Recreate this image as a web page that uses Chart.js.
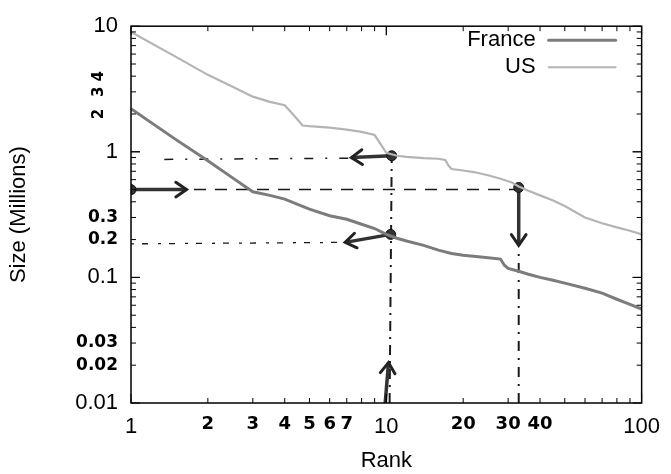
<!DOCTYPE html>
<html>
<head>
<meta charset="utf-8">
<script src="https://cdn.jsdelivr.net/npm/chart.js@4.4.0/dist/chart.umd.min.js"></script>
<style>
  html, body { margin: 0; padding: 0; background: #fff; }
</style>
</head>
<body>
<canvas id="rankChart" width="671" height="474"></canvas>
<script>
// series (rank -> size in millions)
const franceRanks = [1, 1.5, 2, 2.5, 3, 3.5, 4, 5, 6, 7, 8, 9, 10, 11, 12, 14, 16, 18, 20, 24, 28, 29, 30, 33, 36, 40, 45, 50, 60, 70, 80, 90, 100];
const franceSizes = [2.2, 1.25, 0.85, 0.62, 0.48, 0.45, 0.42, 0.35, 0.31, 0.29, 0.265, 0.245, 0.22, 0.205, 0.195, 0.18, 0.165, 0.155, 0.15, 0.145, 0.14, 0.125, 0.118, 0.112, 0.106, 0.1, 0.095, 0.09, 0.082, 0.075, 0.067, 0.061, 0.056];

const usRanks = [1, 1.5, 2, 2.5, 3, 3.5, 4, 4.3, 4.7, 5, 6, 7, 8, 9, 9.5, 10, 11, 12, 14, 16, 17, 17.5, 18, 20, 22, 25, 28, 31, 33, 36, 40, 45, 50, 60, 70, 80, 90, 100];
const usSizes = [9.0, 5.7, 4.1, 3.3, 2.75, 2.5, 2.35, 2.0, 1.62, 1.6, 1.56, 1.5, 1.44, 1.36, 1.15, 0.98, 0.93, 0.91, 0.89, 0.88, 0.86, 0.78, 0.73, 0.71, 0.69, 0.65, 0.61, 0.57, 0.53, 0.49, 0.45, 0.41, 0.37, 0.30, 0.27, 0.25, 0.235, 0.22];

// tick labels, printed ones and the hand written ones
const xTickValues = [1, 2, 3, 4, 5, 6, 7, 10, 20, 30, 40, 100];
const xTickLabels = ['1', '2', '3', '4', '5', '6', '7', '10', '20', '30', '40', '100'];
const yTickValues = [0.01, 0.02, 0.03, 0.1, 0.2, 0.3, 1, 10];
const yTickLabels = ['0.01', '0.02', '0.03', '0.1', '0.2', '0.3', '1', '10'];
const printedTicks = [0.01, 0.1, 1, 10, 100];
const yHandSideValues = [2, 3, 4];
const yHandSideLabels = ['2', '3', '4'];

// hand drawn reading guides (data units)
const guideNear09 = [{x: 1.35, y: 0.87}, {x: 7.2, y: 0.89}];
const guideAt05 = [{x: 1, y: 0.5}, {x: 33, y: 0.5}];
const guideNear02 = [{x: 1, y: 0.185}, {x: 6.8, y: 0.19}];
const guideRank10 = [{x: 10.3, y: 0.01}, {x: 10.5, y: 0.93}];
const guideRank33 = [{x: 33, y: 0.01}, {x: 33, y: 0.165}];
const arrowList = [
    [{x: 10.5, y: 0.93}, {x: 7.3, y: 0.9}],
    [{x: 1, y: 0.5}, {x: 1.65, y: 0.5}],
    [{x: 10.4, y: 0.22}, {x: 6.9, y: 0.19}],
    [{x: 9.9, y: 0.01}, {x: 10.2, y: 0.021}],
    [{x: 33, y: 0.52}, {x: 33, y: 0.18}]
];
const markedPoints = [{x: 10.5, y: 0.93}, {x: 33, y: 0.52}, {x: 1, y: 0.5}, {x: 10.4, y: 0.22}];

const franceColor = '#7c7c7c';
const usColor = '#b4b4b4';
const inkColor = '#1a1a1a';
const handFont = {family: 'DejaVu Sans', size: 17, weight: 'bold'};
const printFont = {family: 'Liberation Sans', size: 22};

function toPoints(xs, ys) {
    return xs.map((x, i) => ({x: x, y: ys[i]}));
}

function guide(data, dash, width) {
    return {
        data: data, borderColor: inkColor, borderWidth: width || 1.5,
        borderDash: dash, pointRadius: 0, fill: false
    };
}

const arrowDatasets = arrowList.map(a => ({
    data: a, borderColor: '#333', borderWidth: 3.5, pointRadius: 0, fill: false
}));

// frame, inward ticks, arrow heads, side notes and the legend
const decor = {
    id: 'decor',
    afterDraw(chart) {
        const ctx = chart.ctx;
        const a = chart.chartArea;
        const xs = chart.scales.x, ys = chart.scales.y;
        ctx.save();
        ctx.strokeStyle = '#000';
        ctx.lineWidth = 1.5;
        ctx.strokeRect(a.left, a.top, a.right - a.left, a.bottom - a.top);

        ctx.lineWidth = 1;
        ctx.beginPath();
        [1, 10].forEach(dec => {
            for (let m = 1; m <= 10; m++) {
                const px = xs.getPixelForValue(dec * m);
                const len = (m === 1 || m === 10) ? 9 : 5;
                ctx.moveTo(px, a.bottom); ctx.lineTo(px, a.bottom - len);
                ctx.moveTo(px, a.top); ctx.lineTo(px, a.top + len);
            }
        });
        [0.01, 0.1, 1].forEach(dec => {
            for (let m = 1; m <= 10; m++) {
                const py = ys.getPixelForValue(dec * m);
                const len = (m === 1 || m === 10) ? 9 : 5;
                ctx.moveTo(a.left, py); ctx.lineTo(a.left + len, py);
                ctx.moveTo(a.right, py); ctx.lineTo(a.right - len, py);
            }
        });
        ctx.stroke();

        // arrow heads
        ctx.strokeStyle = '#222';
        ctx.lineWidth = 3;
        ctx.lineCap = 'round';
        arrowList.forEach(arr => {
            const x0 = xs.getPixelForValue(arr[0].x), y0 = ys.getPixelForValue(arr[0].y);
            const x1 = xs.getPixelForValue(arr[1].x), y1 = ys.getPixelForValue(arr[1].y);
            const ang = Math.atan2(y1 - y0, x1 - x0);
            const head = 13;
            ctx.beginPath();
            ctx.moveTo(x1 - head * Math.cos(ang - 0.6), y1 - head * Math.sin(ang - 0.6));
            ctx.lineTo(x1, y1);
            ctx.lineTo(x1 - head * Math.cos(ang + 0.6), y1 - head * Math.sin(ang + 0.6));
            ctx.stroke();
        });

        // hand written 2 3 4 beside the y axis
        ctx.fillStyle = '#000';
        ctx.font = 'bold 15px "DejaVu Sans"';
        ctx.textAlign = 'center';
        ctx.textBaseline = 'middle';
        yHandSideValues.forEach((v, i) => {
            ctx.save();
            ctx.translate(a.left - 32, ys.getPixelForValue(v));
            ctx.rotate(-Math.PI / 2);
            ctx.fillText(yHandSideLabels[i], 0, 0);
            ctx.restore();
        });

        // legend, top right inside the frame
        const items = [
            {text: 'France', color: franceColor, w: 3},
            {text: 'US', color: usColor, w: 2}
        ];
        ctx.font = '22px "Liberation Sans"';
        ctx.textAlign = 'right';
        items.forEach((it, i) => {
            const ly = a.top + 14 + i * 27;
            ctx.fillStyle = '#000';
            ctx.fillText(it.text, a.right - 106, ly);
            ctx.strokeStyle = it.color;
            ctx.lineWidth = it.w;
            ctx.beginPath();
            ctx.moveTo(a.right - 93, ly);
            ctx.lineTo(a.right - 26, ly);
            ctx.stroke();
        });
        ctx.restore();
    }
};

const ctx = document.getElementById('rankChart');
new Chart(ctx, {
    type: 'line',
    data: {
        datasets: [
            {label: 'France', data: toPoints(franceRanks, franceSizes), borderColor: franceColor,
             borderWidth: 3, pointRadius: 0, fill: false},
            {label: 'US', data: toPoints(usRanks, usSizes), borderColor: usColor,
             borderWidth: 2.2, pointRadius: 0, fill: false},
            {data: markedPoints, showLine: false, pointRadius: 5, pointBackgroundColor: '#333',
             pointBorderColor: '#111', pointBorderWidth: 1},
            ...arrowDatasets,
            guide(guideNear09, [9, 12, 2, 12]),
            guide(guideAt05, [12, 9]),
            guide(guideNear02, [3, 8, 6, 10], 1.3),
            guide(guideRank10, [10, 6, 2, 6], 2),
            guide(guideRank33, [10, 7, 2, 7], 2)
        ]
    },
    options: {
        responsive: false,
        animation: false,
        devicePixelRatio: 1,
        layout: {padding: {top: 22, right: 23, left: 0, bottom: 0}},
        plugins: {legend: {display: false}, tooltip: {enabled: false}},
        elements: {line: {tension: 0}},
        scales: {
            x: {
                type: 'logarithmic', min: 1, max: 100,
                afterBuildTicks: s => { s.ticks = xTickValues.map(v => ({value: v})); },
                afterFit: s => { s.height = 71; },
                grid: {display: false, drawTicks: false},
                border: {display: false},
                ticks: {
                    autoSkip: false, maxRotation: 0, padding: 11, color: '#000',
                    callback: v => xTickLabels[xTickValues.indexOf(v)],
                    font: c => printedTicks.includes(c.tick && c.tick.value) ? printFont : {family: 'DejaVu Sans', size: 18, weight: 'bold'}
                },
                title: {display: true, text: 'Rank', color: '#000', font: printFont, padding: {top: 0, bottom: 0}}
            },
            y: {
                type: 'logarithmic', min: 0.01, max: 10,
                afterBuildTicks: s => { s.ticks = yTickValues.map(v => ({value: v})); },
                afterFit: s => { s.width = 131; },
                grid: {display: false, drawTicks: false},
                border: {display: false},
                ticks: {
                    autoSkip: false, padding: 13, color: '#000',
                    callback: v => yTickLabels[yTickValues.indexOf(v)],
                    font: c => printedTicks.includes(c.tick && c.tick.value) ? printFont : handFont
                },
                title: {display: true, text: 'Size (Millions)', color: '#000', font: printFont, padding: {top: 6, bottom: 0}}
            }
        }
    },
    plugins: [decor]
});
</script>
</body>
</html>
